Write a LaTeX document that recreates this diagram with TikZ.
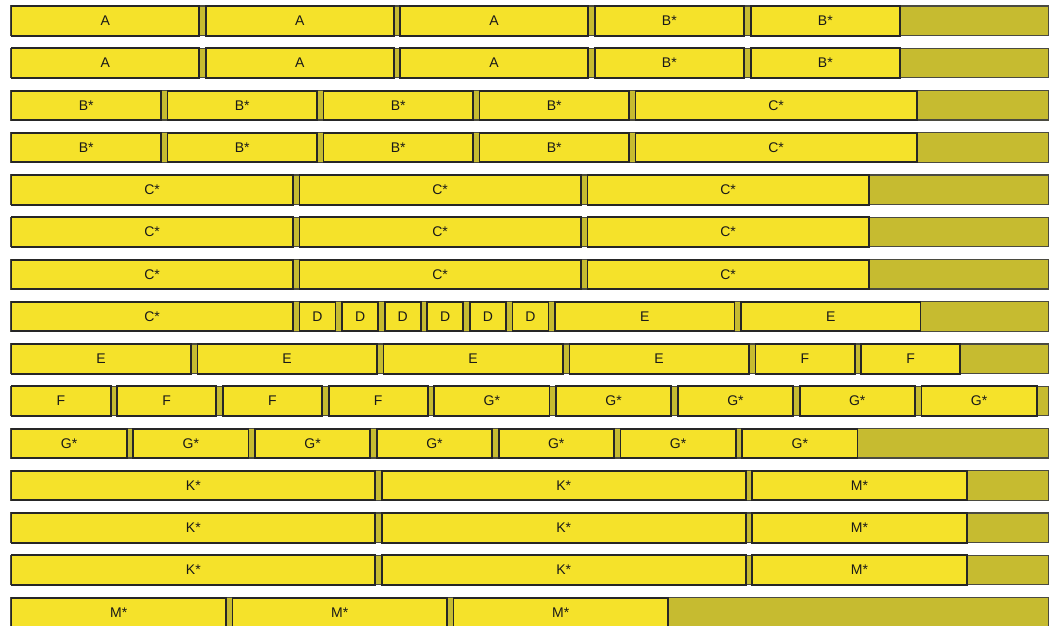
\documentclass[tikz,border=0pt]{standalone}
\usepackage{fontspec}
\setmainfont{Liberation Sans}
\definecolor{cellyellow}{HTML}{F5E22A}
\definecolor{barolive}{HTML}{C6BB30}
\definecolor{edgedark}{HTML}{262626}
\definecolor{edgebar}{HTML}{4A4A40}
\tikzset{
  cell/.style={draw=edgedark, line width=1.9pt, fill=cellyellow, minimum height=29.5pt, inner sep=0pt,
    font=\fontsize{14}{15}\selectfont, text=black!90},
  barbg/.style={draw=edgebar, line width=1.3pt, fill=barolive, minimum height=29.5pt, minimum width=1038pt, inner sep=0pt},
}
\newcommand\slotrow[3]{%
  \node[barbg] (bar#1) at (529.5,#2) {};
  \xdef\curx{10.5}%
  \foreach \lab/\sl [count=\k] in {#3} {
    \pgfmathsetmacro\bw{\sl-6.6}
    \node[cell, minimum width=\bw pt, anchor=west] (r#1c\k) at (\curx,#2) {\lab};
    \pgfmathsetmacro\nx{\curx+\sl}
    \xdef\curx{\nx}
  }%
}
\begin{document}
\begin{tikzpicture}[x=1pt,y=-1pt]
\useasboundingbox (0,0) rectangle (1054,625);
\clip (0,0) rectangle (1054,625);
\def\sA{194.4}\def\sB{156}\def\sC{288}\def\sD{42.6}\def\sE{186}\def\sF{105.7}\def\sG{121.8}\def\sK{370.4}\def\sM{221}
\slotrow{1}{20.8}{A/\sA,A/\sA,A/\sA,B*/\sB,B*/\sB}
\slotrow{2}{63.05}{A/\sA,A/\sA,A/\sA,B*/\sB,B*/\sB}
\slotrow{3}{105.3}{B*/\sB,B*/\sB,B*/\sB,B*/\sB,C*/\sC}
\slotrow{4}{147.55}{B*/\sB,B*/\sB,B*/\sB,B*/\sB,C*/\sC}
\slotrow{5}{189.8}{C*/\sC,C*/\sC,C*/\sC}
\slotrow{6}{232.05}{C*/\sC,C*/\sC,C*/\sC}
\slotrow{7}{274.3}{C*/\sC,C*/\sC,C*/\sC}
\slotrow{8}{316.55}{C*/\sC,D/\sD,D/\sD,D/\sD,D/\sD,D/\sD,D/\sD,E/\sE,E/\sE}
\slotrow{9}{358.8}{E/\sE,E/\sE,E/\sE,E/\sE,F/\sF,F/\sF}
\slotrow{10}{401.05}{F/\sF,F/\sF,F/\sF,F/\sF,G*/\sG,G*/\sG,G*/\sG,G*/\sG,G*/\sG}
\slotrow{11}{443.3}{G*/\sG,G*/\sG,G*/\sG,G*/\sG,G*/\sG,G*/\sG,G*/\sG}
\slotrow{12}{485.55}{K*/\sK,K*/\sK,M*/\sM}
\slotrow{13}{527.8}{K*/\sK,K*/\sK,M*/\sM}
\slotrow{14}{570.05}{K*/\sK,K*/\sK,M*/\sM}
\slotrow{15}{612.3}{M*/\sM,M*/\sM,M*/\sM}
\end{tikzpicture}
\end{document}
